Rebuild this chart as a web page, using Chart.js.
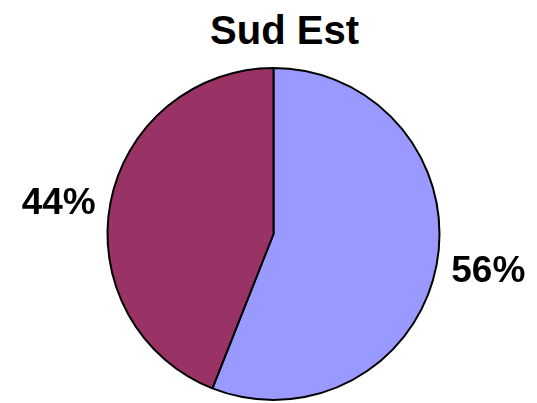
<!DOCTYPE html>
<html>
<head>
<meta charset="utf-8">
<script src="https://cdn.jsdelivr.net/npm/chart.js@4/dist/chart.umd.min.js"></script>
<style>
    html, body { margin: 0; padding: 0; background: #fff; }
    #wrap { position: relative; width: 537px; height: 403px; }
    #titre {
        position: absolute; left: 84px; top: 8px; width: 401px;
        text-align: center; line-height: 40px;
        font: bold 40px "Liberation Sans", Arial, sans-serif; color: #000;
    }
    canvas { position: absolute; left: 0; top: 0; }
</style>
</head>
<body>
<div id="wrap">
    <div id="titre">Sud Est</div>
    <canvas id="graficoTorta" width="537" height="403"></canvas>
</div>
<script>
// Répartition Sud Est
const categories = ['A', 'B'];
const valeurs = [56, 44];
const etiquettes = ['56%', '44%'];
const couleurs = ['#9999FF', '#993366'];

// Étiquettes placées hors du disque, alignées sur l'angle médian de chaque part
const etiquettesExterieures = {
    id: 'etiquettesExterieures',
    afterDatasetsDraw(chart) {
        const ctx = chart.ctx;
        const meta = chart.getDatasetMeta(0);
        ctx.save();
        ctx.font = 'bold 37px "Liberation Sans", Arial, sans-serif';
        ctx.fillStyle = '#000';
        ctx.textBaseline = 'middle';
        meta.data.forEach((arc, i) => {
            const p = arc.getProps(['x', 'y', 'startAngle', 'endAngle', 'outerRadius'], true);
            const mid = (p.startAngle + p.endAngle) / 2;
            const d = p.outerRadius + 15;
            const x = p.x + Math.cos(mid) * d;
            const y = p.y + Math.sin(mid) * d + 4;
            ctx.textAlign = Math.cos(mid) >= 0 ? 'left' : 'right';
            ctx.fillText(etiquettes[i], x, y);
        });
        ctx.restore();
    }
};

const ctx = document.getElementById('graficoTorta').getContext('2d');
new Chart(ctx, {
    type: 'pie',
    data: {
        labels: categories,
        datasets: [{
            data: valeurs,
            backgroundColor: couleurs,
            borderColor: '#000',
            borderWidth: 2
        }]
    },
    options: {
        responsive: false,
        animation: false,
        layout: { padding: { top: 67, bottom: 2, left: 10, right: 0 } },
        plugins: {
            legend: { display: false },
            tooltip: { enabled: false }
        }
    },
    plugins: [etiquettesExterieures]
});
</script>
</body>
</html>
